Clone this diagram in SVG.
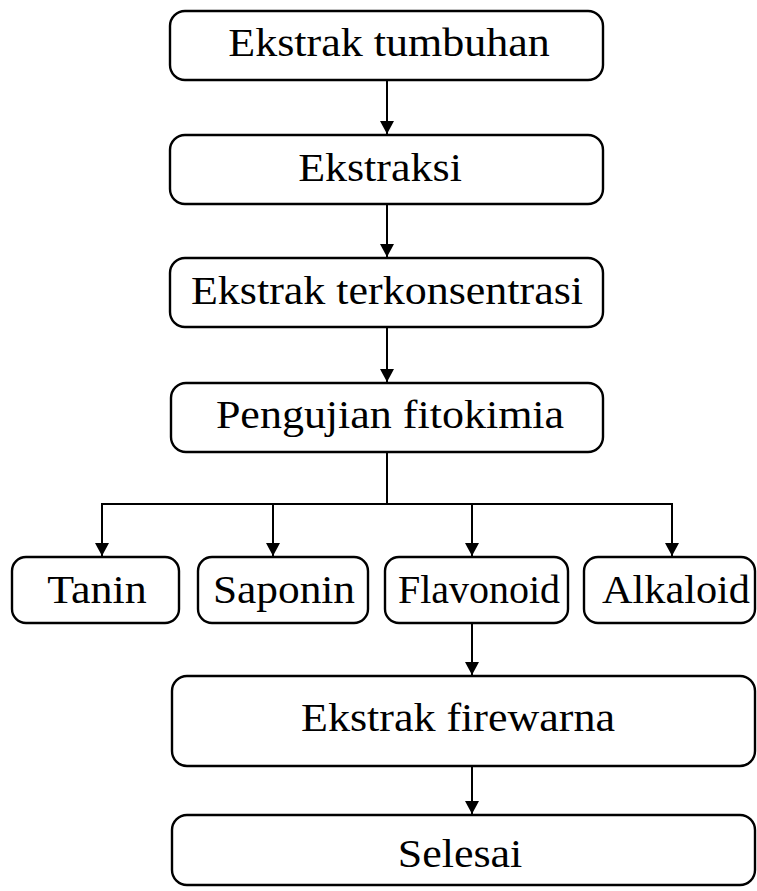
<svg xmlns="http://www.w3.org/2000/svg" width="757" height="891" viewBox="0 0 757 891">
<defs>
<marker id="ah" markerWidth="13" markerHeight="14" refX="13" refY="7" orient="auto" markerUnits="userSpaceOnUse" viewBox="0 0 13 14">
<path d="M0,0 L13,7 L0,14 z" fill="#000"/>
</marker>
</defs>
<style>
.box{fill:#fff;stroke:#000;stroke-width:2.4}
.lbl{font-family:"Liberation Serif","Times New Roman",serif;font-size:44px;fill:#000;text-anchor:middle}
.con{fill:none;stroke:#000;stroke-width:2}
</style>
<rect width="757" height="891" fill="#fff"/>
<g id="connectors">
<line class="con" x1="387" y1="80" x2="387" y2="134" marker-end="url(#ah)"/>
<line class="con" x1="387" y1="204" x2="387" y2="257" marker-end="url(#ah)"/>
<line class="con" x1="387" y1="327" x2="387" y2="382" marker-end="url(#ah)"/>
<line class="con" x1="387" y1="452" x2="387" y2="504"/>
<line class="con" x1="101" y1="504" x2="673" y2="504"/>
<line class="con" x1="102" y1="504" x2="102" y2="556" marker-end="url(#ah)"/>
<line class="con" x1="273" y1="504" x2="273" y2="556" marker-end="url(#ah)"/>
<line class="con" x1="472" y1="504" x2="472" y2="556" marker-end="url(#ah)"/>
<line class="con" x1="672" y1="504" x2="672" y2="556" marker-end="url(#ah)"/>
<line class="con" x1="472" y1="623" x2="472" y2="675" marker-end="url(#ah)"/>
<line class="con" x1="472" y1="766" x2="472" y2="814" marker-end="url(#ah)"/>
</g>
<g id="n1"><rect class="box" x="170" y="11" width="433" height="69" rx="15"/><text class="lbl" transform="translate(389,56) scale(1,0.92)">Ekstrak tumbuhan</text></g>
<g id="n2"><rect class="box" x="170" y="135" width="433" height="69" rx="15"/><text class="lbl" transform="translate(380,181) scale(1,0.92)">Ekstraksi</text></g>
<g id="n3"><rect class="box" x="170" y="258" width="433" height="69" rx="15"/><text class="lbl" transform="translate(387,304) scale(1,0.92)">Ekstrak terkonsentrasi</text></g>
<g id="n4"><rect class="box" x="171" y="383" width="432" height="69" rx="15"/><text class="lbl" transform="translate(390,428) scale(1,0.92)">Pengujian fitokimia</text></g>
<g id="n5"><rect class="box" x="12" y="557" width="167" height="66" rx="14"/><text class="lbl" transform="translate(97,603) scale(1,0.92)">Tanin</text></g>
<g id="n6"><rect class="box" x="198" y="557" width="170" height="66" rx="14"/><text class="lbl" transform="translate(284,603) scale(1,0.92)" textLength="142" lengthAdjust="spacingAndGlyphs">Saponin</text></g>
<g id="n7"><rect class="box" x="385" y="557" width="183" height="66" rx="14"/><text class="lbl" transform="translate(479,603) scale(1,0.92)" textLength="162" lengthAdjust="spacingAndGlyphs">Flavonoid</text></g>
<g id="n8"><rect class="box" x="584" y="557" width="171" height="66" rx="14"/><text class="lbl" transform="translate(676,603) scale(1,0.92)" textLength="148" lengthAdjust="spacingAndGlyphs">Alkaloid</text></g>
<g id="n9"><rect class="box" x="172" y="676" width="583" height="90" rx="15"/><text class="lbl" transform="translate(458,731) scale(1,0.92)">Ekstrak firewarna</text></g>
<g id="n10"><rect class="box" x="172" y="815" width="583" height="70" rx="15"/><text class="lbl" transform="translate(460,867) scale(1,0.92)">Selesai</text></g>
</svg>
